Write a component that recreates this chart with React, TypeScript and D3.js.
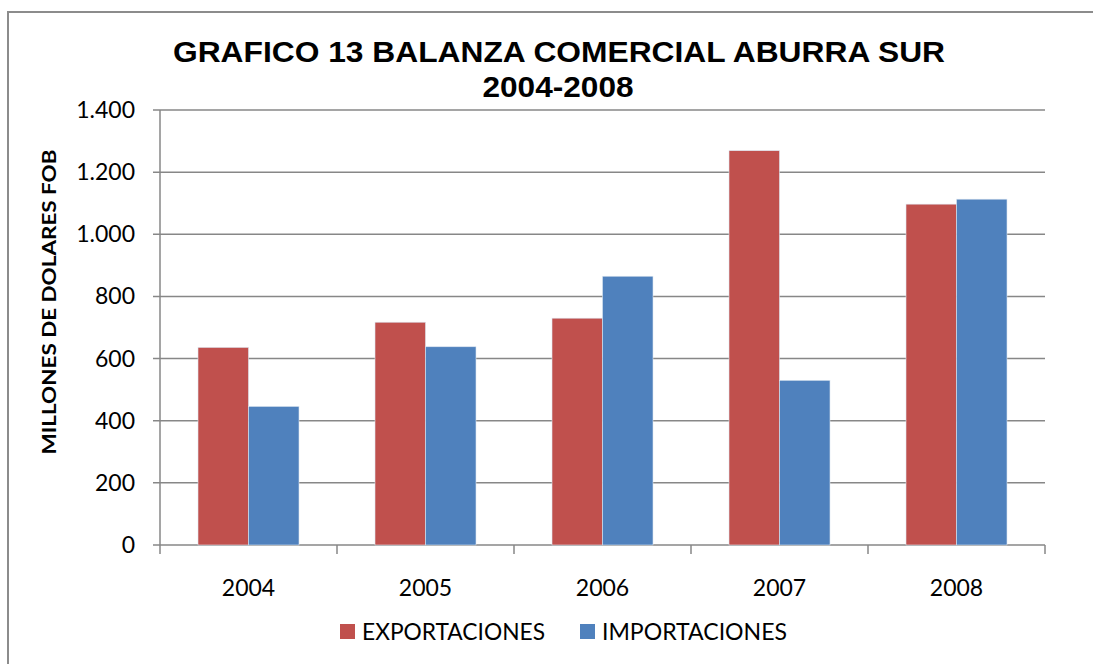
import React from "react";
import * as d3 from "d3";

const categories = ["2004", "2005", "2006", "2007", "2008"];
const seriesNames = ["EXPORTACIONES", "IMPORTACIONES"];
const exportaciones = [636, 717, 730, 1269, 1097];
const importaciones = [446, 638, 865, 530, 1113];
const yTicks = [0, 200, 400, 600, 800, 1000, 1200, 1400];
const colors = ["#C0504D", "#4F81BD"];

const W = 1093;
const H = 664;
const left = 160;
const right = 1045;
const top = 110;
const bottom = 545;

const fmt = (v: number) => d3.format(",")(v).replace(/,/g, ".");

export default function App() {
  const x = d3.scaleBand<string>().domain(categories).range([left, right]).paddingInner(0).paddingOuter(0);
  const y = d3.scaleLinear().domain([0, 1400]).range([bottom, top]);
  const groupW = 101;
  const inner = d3.scaleBand<string>().domain(seriesNames).range([0, groupW]);
  const series = [exportaciones, importaciones];
  const grid = "#878787";

  return (
    <svg width={W} height={H} style={{ position: "absolute", left: 0, top: 0, background: "#fff" }}>
      <path d={`M8,${H + 10} L8,12 L${W + 10},12`} fill="none" stroke="#8c8c8c" strokeWidth={2} />
      <text x={559} y={62} textAnchor="middle" fontFamily="Liberation Sans, Arial, sans-serif" fontWeight="bold" fontSize={29} textLength={772} lengthAdjust="spacingAndGlyphs">
        GRAFICO 13 BALANZA COMERCIAL ABURRA SUR
      </text>
      <text x={558} y={97} textAnchor="middle" fontFamily="Liberation Sans, Arial, sans-serif" fontWeight="bold" fontSize={29} textLength={151} lengthAdjust="spacingAndGlyphs">
        2004-2008
      </text>
      {yTicks.map((t) => (
        <g key={t}>
          <line x1={153} x2={right} y1={y(t)} y2={y(t)} stroke={grid} strokeWidth={1.5} />
          <text x={135} y={y(t) + 8} textAnchor="end" fontFamily="Lato, Open Sans, sans-serif" fontSize={23} fill="#000">
            {fmt(t)}
          </text>
        </g>
      ))}
      <line x1={left} x2={left} y1={top} y2={bottom + 9} stroke={grid} strokeWidth={1.5} />
      {categories.map((c) => (
        <line key={"tk" + c} x1={(x(c) as number) + x.bandwidth()} x2={(x(c) as number) + x.bandwidth()} y1={bottom} y2={bottom + 9} stroke={grid} strokeWidth={1.5} />
      ))}
      {categories.map((c, i) => {
        const cx = (x(c) as number) + x.bandwidth() / 2;
        return (
          <g key={c}>
            {series.map((s, j) => (
              <rect
                key={j}
                x={cx - groupW / 2 + (inner(seriesNames[j]) as number)}
                y={y(s[i])}
                width={inner.bandwidth()}
                height={bottom - y(s[i])}
                fill={colors[j]}
                stroke="#dde6f0"
                strokeWidth={0.6}
              />
            ))}
            <text x={cx} y={596} textAnchor="middle" fontFamily="Lato, Open Sans, sans-serif" fontSize={23} fill="#000">
              {c}
            </text>
          </g>
        );
      })}
      <text
        transform={`translate(56,302) rotate(-90)`}
        textAnchor="middle"
        fontFamily="Lato, Open Sans, sans-serif"
        fontWeight="bold"
        fontSize={19}
        textLength={305}
        lengthAdjust="spacingAndGlyphs"
      >
        MILLONES DE DOLARES FOB
      </text>
      {seriesNames.map((n, j) => {
        const lx = j === 0 ? 340 : 580;
        return (
          <g key={n}>
            <rect x={lx} y={624} width={15} height={15} fill={colors[j]} />
            <text x={lx + 22} y={640} fontFamily="Lato, Open Sans, sans-serif" fontSize={23} textLength={j === 0 ? 183 : 185} lengthAdjust="spacingAndGlyphs">
              {n}
            </text>
          </g>
        );
      })}
    </svg>
  );
}
